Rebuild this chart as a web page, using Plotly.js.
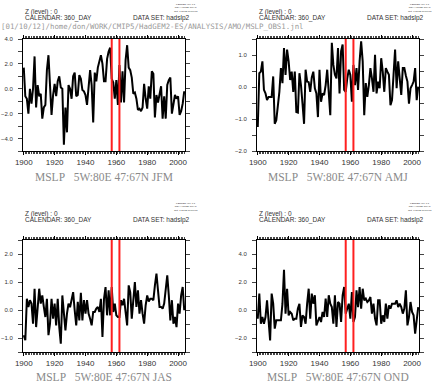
<!DOCTYPE html>
<html>
<head>
<meta charset="utf-8">
<script src="https://cdn.plot.ly/plotly-3.0.1.min.js"></script>
<style>html,body{margin:0;padding:0;background:#fff;}#chart{width:435px;height:382px;}</style>
</head>
<body>
<div id="chart"></div>
<script>
// ---- data ----
const firstYear = 1900;
const seasons = ["JFM", "AMJ", "JAS", "OND"];
const jfm = [1.7, -0.6, -0.8, -2.0, 0.0, -1.2, 0.0, 2.6, -1.5, 0.3,
  -0.6, -0.4, -2.4, -1.5, -1.3, 1.5, 2.7, 0.5, -2.1, -0.5,
  0.4, -0.6, 0.6, 1.0, 0.1, 0.0, -4.5, -1.5, -3.5, 0.3,
  0.0, -0.8, 1.0, 1.3, -0.6, -0.5, 1.1, 0.8, -0.1, -0.2,
  -0.5, -1.3, 0.2, 1.5, 0.3, -2.7, 1.3, 0.6, 1.7, 2.2,
  2.7, 2.0, 0.6, 0.6, 2.4, 3.0, 3.3, 0.8, 0.5, -0.8,
  0.7, -1.3, 1.9, -1.1, 1.4, -1.1, 2.3, 3.5, 1.7, 1.5,
  0.9, -0.4, -0.3, -0.8, -1.7, -1.6, -1.8, -1.5, 0.4, -0.8,
  -1.6, 0.2, -0.8, 1.4, 1.2, -2.3, -0.5, -1.1, -0.3, 0.2,
  -2.4, -0.6, -2.4, 0.3, 0.7, 0.9, -2.0, -1.1, -0.5, -0.8,
  -0.6, -2.1, -1.8, -1.2, -0.2];
const amj = [-1.25, 0.43, 0.48, 0.8, -0.09, -0.2, -0.41, -0.31, -0.31, -0.31,
  0.33, -1.15, -1.04, -0.57, -0.15, 0.59, 0.12, 1.22, 0.38, 1.17,
  0.8, 0.22, 0.48, -0.15, 0.48, -0.78, -0.8, 0.43, 0.06, -0.52,
  -1.15, 0.54, 0.17, 0.15, -0.15, 0.3, 0.48, -0.04, -0.2, -0.94,
  0.54, -0.46, -0.2, -0.25, 0.06, 0.54, -0.31, -0.88, 1.38, 0.69,
  0.38, 0.27, 1.22, -0.2, 1.12, 1.33, -0.09, -0.15, 0.27, 0.54,
  0.38, -0.46, 0.69, 0.06, 0.59, -0.09, 0.8, 1.43, 0.8, -0.88,
  0.12, -0.31, 0.06, 0.59, 0.27, -0.15, 1.01, -0.2, 0.17, -0.04,
  0.9, 0.48, -0.15, 0.59, 0.48, 0.38, -0.57, -0.41, 0.38, 1.17,
  -0.04, 0.8, 0.27, -0.25, 0.59, 0.59, 0.35, 0.17, -0.52, -0.04,
  0.06, 0.17, 0.59, -0.41, 0.01];
const jas = [-0.9, -1.08, 0.4, 0.11, 0.35, 0.23, -0.49, 0.76, -0.61, -0.01,
  0.76, 0.23, 0.52, 0.11, -0.25, 0.4, -0.9, -0.49, 0.4, -0.31,
  0.23, -0.55, 0.4, -0.61, -1.2, 0.52, -0.25, -0.73, -0.13, 0.23,
  0.1, 0.35, 0.64, -0.01, -0.55, 0.29, -0.37, 0.61, -0.37, 0.35,
  -0.13, 0.35, -0.13, -0.31, -0.55, -0.07, -0.07, 0.05, 0.11, -0.07,
  0.4, -0.96, 0.4, 0.82, -0.19, 0.7, -0.19, 0.82, -0.07, 0.23,
  -0.19, -0.25, -0.25, 0.35, 0.17, 0.4, -0.07, -0.55, 0.88, 0.64,
  -0.31, 0.52, 1.0, 0.11, 0.7, -0.13, 0.35, -0.13, -0.49, 0.17,
  0.52, 0.3, 0.4, 0.4, 0.35, 0.88, 1.3, 0.7, 0.11, 0.11,
  0.05, 0.23, 0.7, 1.24, 0.52, -0.37, 0.35, -0.49, -0.25, -0.61,
  0.23, -0.13, 0.52, 0.82, -0.01];
const ond = [-0.62, 1.17, -0.98, -0.5, -0.98, -0.5, 0.69, -1.1, -2.17, 1.17,
  0.45, -1.33, -0.74, -0.74, -0.74, -0.74, 0.45, 2.88, -0.26, 1.52,
  -0.38, -0.14, -0.26, -0.74, -0.62, -0.62, 0.1, 0.45, -1.21, -0.38,
  -0.5, -0.98, 0.45, 1.52, -0.62, 1.17, 0.45, 1.05, -1.1, -0.74,
  -0.5, -0.86, -0.14, -0.5, 0.81, -0.5, 1.05, 0.45, 0.21, -0.98,
  1.05, -1.21, 0.57, 0.45, -0.86, 1.05, 1.64, -0.26, 0.1, 0.45,
  -0.62, 1.29, -0.86, -0.5, 1.4, 0.21, 1.64, 0.1, 1.52, 0.69,
  0.81, 0.57, 0.69, 0.93, -0.26, 0.45, -0.62, -1.1, 0.69, 0.69,
  -0.98, -0.38, -0.86, 0.45, -0.62, 0.33, 0.1, 0.45, 0.45, 0.45,
  0.69, 0.21, 0.45, 0.21, -0.26, 0.1, 1.4, -1.1, -0.5, 0.57,
  -0.14, -0.38, -1.69, -0.74, 0.21];
const markerYears = [1957, 1962];
const titlePrefix = "MSLP\u00a0\u00a0\u00a05W:80E\u00a047:67N\u00a0";
const headerZ = "Z (level) : 0";
const headerCal = "CALENDAR: 360_DAY";
const headerData = "DATA SET: hadslp2";
const pathText = "[01/10/12]/home/don/WORK/CMIP5/HadGEM2-ES/ANALYSIS/AMO/MSLP_OBS1.jnl";
const ferretLines = ["FERRET Ver. 6.1", "NOAA/PMEL TMAP", "Oct  1 2012 17:06:08"];

// ---- layout helpers ----
const W = 435, H = 382;
const px = x => x / W;
const py = y => 1 - y / H;
const series = [jfm, amj, jas, ond];
const yRanges = [[-5, 4], [-2, 1.5], [-1.5, 2.5], [-3, 5]];
const yDticks = [2, 1, 1, 2];
const colX = [[23, 185], [257, 419]];
const rowY = [[39, 151], [240, 352]];

const traces = [];
const layout = {
  width: W, height: H,
  margin: {l: 0, r: 0, t: 0, b: 0},
  paper_bgcolor: "#fff", plot_bgcolor: "#fff",
  showlegend: false,
  shapes: [], annotations: []
};

series.forEach((vals, i) => {
  const col = i % 2, row = Math.floor(i / 2);
  const n = i + 1;
  const xa = "xaxis" + (n === 1 ? "" : n), ya = "yaxis" + (n === 1 ? "" : n);
  const xr = "x" + (n === 1 ? "" : n), yr = "y" + (n === 1 ? "" : n);
  traces.push({
    x: vals.map((_, k) => firstYear + k), y: vals,
    xaxis: xr, yaxis: yr, type: "scatter", mode: "lines",
    line: {color: "#000", width: 2}, hoverinfo: "skip"
  });
  layout[xa] = {
    domain: [px(colX[col][0]), px(colX[col][1])], anchor: yr,
    range: [1899.5, 2004.5], showgrid: false, zeroline: false,
    showline: true, linecolor: "#000", linewidth: 1, mirror: "allticks",
    ticks: "outside", ticklen: 3, tickcolor: "#000", tickwidth: 1,
    tick0: 1900, dtick: 20,
    minor: {dtick: 1, ticklen: 2, ticks: "outside", tickcolor: "#444", tickwidth: 1, showgrid: false},
    tickfont: {family: "Liberation Sans, Arial, sans-serif", size: 8, color: "#333"},
    ticklabelstandoff: 0
  };
  layout[ya] = {
    domain: [py(rowY[row][1]), py(rowY[row][0])], anchor: xr,
    range: yRanges[i], showgrid: false, zeroline: false,
    showline: true, linecolor: "#000", linewidth: 1, mirror: "allticks",
    ticks: "outside", ticklen: 4, tickcolor: "#444", tickwidth: 1,
    tick0: 0, dtick: yDticks[i], tickformat: ".1f",
    minor: {dtick: yDticks[i] / 2, ticklen: 4, ticks: "outside", tickcolor: "#444", tickwidth: 1, showgrid: false},
    tickfont: {family: "Liberation Sans, Arial, sans-serif", size: 6, color: "#333"},
    ticklabelstandoff: 4
  };
  markerYears.forEach(yr0 => {
    layout.shapes.push({
      type: "line", xref: xr, yref: yr + " domain",
      x0: yr0, x1: yr0, y0: 0, y1: 1,
      line: {color: "#ff2020", width: 2}
    });
  });
  const cx = (colX[col][0] + colX[col][1]) / 2;
  const ty = row === 0 ? 177 : 377;
  layout.annotations.push({
    xref: "paper", yref: "paper", x: px(cx), y: py(ty),
    xanchor: "center", yanchor: "middle", showarrow: false,
    text: titlePrefix + seasons[i],
    font: {family: "Liberation Serif, Times New Roman, serif", size: 11.5, color: "#8a8a8a"}
  });
  const off = col * 234;
  const zY = row === 0 ? 12 : 213.5;
  const cY = row === 0 ? 18.3 : 220;
  const fY = row === 0 ? 1.6 : 201;
  const hfont = {family: "Liberation Sans, Arial, sans-serif", size: 6.5, color: "#333"};
  const base = {xref: "paper", yref: "paper", xanchor: "left", yanchor: "middle", showarrow: false, borderpad: 0, font: hfont};
  layout.annotations.push(Object.assign({}, base, {x: px(24 + off), y: py(zY), text: headerZ}));
  layout.annotations.push(Object.assign({}, base, {x: px(24 + off), y: py(cY), text: headerCal}));
  layout.annotations.push(Object.assign({}, base, {x: px(132 + off), y: py(cY), text: headerData}));
  layout.annotations.push({
    xref: "paper", yref: "paper", x: px(186 + off), y: py(fY), xanchor: "center", yanchor: "top",
    showarrow: false, text: ferretLines.join("<br>"), align: "center", borderpad: 0,
    font: {family: "Liberation Sans, Arial, sans-serif", size: 2.5, color: "#333"}
  });
});

layout.annotations.push({
  xref: "paper", yref: "paper", x: px(0), y: py(26.5), xanchor: "left", yanchor: "middle",
  showarrow: false, text: pathText, borderpad: 0,
  font: {family: "DejaVu Sans Mono, monospace", size: 7.4, color: "#9a9a9a"}
});

Plotly.newPlot("chart", traces, layout, {displayModeBar: false, staticPlot: true});
</script>
</body>
</html>
